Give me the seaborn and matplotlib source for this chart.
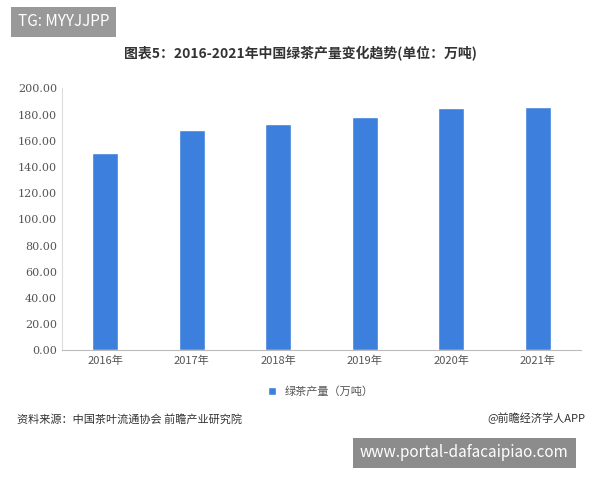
import matplotlib
matplotlib.use('Agg')
import matplotlib.pyplot as plt
import seaborn as sns
import pandas as pd

years = ['2016年', '2017年', '2018年', '2019年', '2020年', '2021年']
output = [151, 168, 173, 178, 185, 186]
yticks = [0, 20, 40, 60, 80, 100, 120, 140, 160, 180, 200]

sns.set_style('white')
plt.rcParams['font.family'] = ['Noto Sans CJK SC', 'DejaVu Sans']

df = pd.DataFrame({'year': years, 'val': output})
fig = plt.figure(figsize=(6, 4.8), dpi=100)
ax = fig.add_axes([0.103, 0.27, 0.865, 0.546])
sns.barplot(data=df, x='year', y='val', color='#3d7fdc', width=0.3, ax=ax,
            label='绿茶产量（万吨）', saturation=1)
ax.set_ylim(0, 200)
ax.set_yticks(yticks)
ax.set_yticklabels([f'{v:.2f}' for v in yticks], fontsize=8, color='#555555',
                   family='DejaVu Serif')
ax.tick_params(axis='x', labelsize=8, colors='#555555', length=0)
ax.tick_params(axis='y', length=0)
ax.set_xlabel('')
ax.set_ylabel('')
for s in ['top', 'right']:
    ax.spines[s].set_visible(False)
ax.spines['left'].set_color('#dddddd')
ax.spines['bottom'].set_color('#bbbbbb')
ax.legend(loc='upper center', bbox_to_anchor=(0.5, -0.1), frameon=False,
          fontsize=8, handlelength=0.7, handleheight=0.7, labelcolor='#555555')

fig.text(0.5, 0.878, '图表5：2016-2021年中国绿茶产量变化趋势(单位：万吨)', ha='center',
         fontsize=10, fontweight='bold', color='#333333')
fig.text(0.028, 0.12, '资料来源：中国茶叶流通协会 前瞻产业研究院', fontsize=8, color='#333333')
fig.text(0.975, 0.12, '@前瞻经济学人APP', fontsize=8, color='#333333', ha='right')
fig.text(0.03, 0.945, 'TG: MYYJJPP', fontsize=11, color='white',
         bbox=dict(facecolor='#999999', edgecolor='none', pad=5))
fig.text(0.6, 0.047, 'www.portal-dafacaipiao.com', fontsize=11, color='white',
         bbox=dict(facecolor='#8c8c8c', edgecolor='none', pad=5))
fig.savefig('out.png')
